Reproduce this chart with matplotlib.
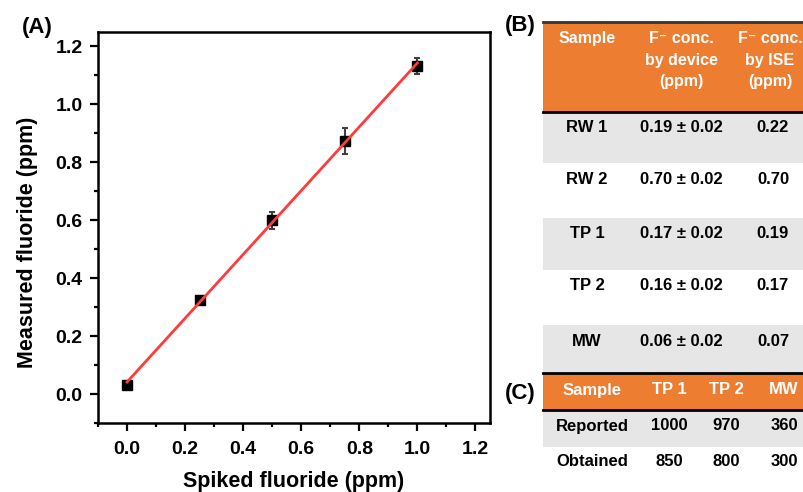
import numpy as np
import matplotlib
matplotlib.use('Agg')
from matplotlib import pyplot as plt
from matplotlib.patches import Rectangle
from matplotlib.ticker import MultipleLocator

plt.rcParams['font.family'] = ['Liberation Sans', 'DejaVu Sans']
plt.rcParams['font.weight'] = 'bold'

# (A) spiked vs measured fluoride
spiked = [0.0, 0.25, 0.5, 0.75, 1.0]
measured = [0.030, 0.325, 0.600, 0.873, 1.133]
measured_err = [0.012, 0.004, 0.030, 0.045, 0.027]

# (B) real samples
b_header = ['Sample', 'F\u207b conc.\nby device\n(ppm)', 'F\u207b conc.\nby ISE\n(ppm)']
b_samples = ['RW 1', 'RW 2', 'TP 1', 'TP 2', 'MW']
b_device = ['0.19 \u00b1 0.02', '0.70 \u00b1 0.02', '0.17 \u00b1 0.02', '0.16 \u00b1 0.02', '0.06 \u00b1 0.02']
b_ise = ['0.22', '0.70', '0.19', '0.17', '0.07']

# (C) reported vs obtained
c_header = ['Sample', 'TP 1', 'TP 2', 'MW']
c_reported = ['Reported', '1000', '970', '360']
c_obtained = ['Obtained', '850', '800', '300']

ORANGE = '#ED7D31'
GRAY = '#E6E6E6'

fig = plt.figure(figsize=(8.04, 4.92), dpi=100)

# ---- panel A ----
ax = fig.add_axes([98 / 804, 1 - 423 / 492, 392 / 804, 391 / 492])
fit = np.polyfit(spiked, measured, 1)
fx = np.array([spiked[0], spiked[-1]])
ax.errorbar(spiked, measured, yerr=measured_err, fmt='s', color='black', ms=6.5,
            ecolor='#404040', elinewidth=1.5, capsize=2.5, capthick=1.5, zorder=2)
ax.plot(fx, np.polyval(fit, fx), color='#FF3B3B', lw=2, zorder=3)

ax.set_xlim(-0.1, 1.25)
ax.set_ylim(-0.1, 1.25)
ax.xaxis.set_minor_locator(MultipleLocator(0.1))
ax.yaxis.set_minor_locator(MultipleLocator(0.1))
ax.set_xticks(np.arange(0, 1.21, 0.2))
ax.set_yticks(np.arange(0, 1.21, 0.2))
ax.tick_params(which='major', direction='out', length=6, width=1.6, labelsize=14, pad=5)
ax.tick_params(which='minor', direction='out', length=3, width=1.6)
ax.tick_params(axis='x', which='major', pad=7)
ax.xaxis.set_major_formatter(lambda v, p: f'{v:.1f}')
ax.yaxis.set_major_formatter(lambda v, p: f'{v:.1f}')
for s in ax.spines.values():
    s.set_linewidth(1.8)

fig.text(28 / 804, 1 - 242 / 492, 'Measured fluoride (ppm)', rotation=90,
         ha='center', va='center', fontsize=15.5, fontweight='bold')
fig.text(294 / 804, 1 - 471 / 492, 'Spiked fluoride (ppm)',
         ha='center', va='top', fontsize=15.5, fontweight='bold')
fig.text(37 / 804, 1 - 27 / 492, '(A)', ha='center', va='center', fontsize=16, fontweight='bold')

# ---- tables B and C (pixel coordinates) ----
tx = fig.add_axes([0, 0, 1, 1])
tx.set_xlim(0, 804)
tx.set_ylim(492, 0)
tx.axis('off')

left, right = 543, 804
tx.text(520, 26, '(B)', ha='center', va='center', fontsize=16, fontweight='bold')
tx.text(520, 394, '(C)', ha='center', va='center', fontsize=16, fontweight='bold')

b_cols = [587, 681, 773]
b_head_cols = [587, 681, 770]
b_rows = [112, 163, 218, 270, 325, 373]
tx.add_patch(Rectangle((left, 22), right - left, b_rows[0] - 22, color=ORANGE, lw=0))
for i in range(len(b_samples)):
    top, bot = b_rows[i], b_rows[i + 1]
    if i % 2 == 0:
        tx.add_patch(Rectangle((left, top), right - left, bot - top, color=GRAY, lw=0))
    for cx, val in zip(b_cols, [b_samples[i], b_device[i], b_ise[i]]):
        tx.text(cx, top + 16, val, ha='center', va='center', fontsize=12, fontweight='bold')
for cx, h in zip(b_head_cols, b_header):
    tx.text(cx, 31, h, ha='center', va='top', fontsize=11.5, fontweight='bold',
            color='white', linespacing=1.55)
tx.plot([left, right], [22, 22], color='#333333', lw=2)
tx.plot([left, right], [112, 112], color='black', lw=2)

c_cols = [592, 669, 726, 784]
c_rows = [373, 410, 447, 485]
tx.add_patch(Rectangle((left, c_rows[0]), right - left, c_rows[1] - c_rows[0], color=ORANGE, lw=0))
tx.add_patch(Rectangle((left, c_rows[1]), right - left, c_rows[2] - c_rows[1], color=GRAY, lw=0))
for cx, h in zip(c_cols, c_header):
    tx.text(cx, 390, h, ha='center', va='center', fontsize=12, fontweight='bold', color='white')
for row, cy in [(c_reported, 426), (c_obtained, 462)]:
    for cx, val in zip(c_cols, row):
        tx.text(cx, cy, val, ha='center', va='center', fontsize=12, fontweight='bold')
tx.plot([left, right], [373, 373], color='black', lw=2)
tx.plot([left, right], [410, 410], color='black', lw=2)

fig.savefig('out.png', dpi=100)
